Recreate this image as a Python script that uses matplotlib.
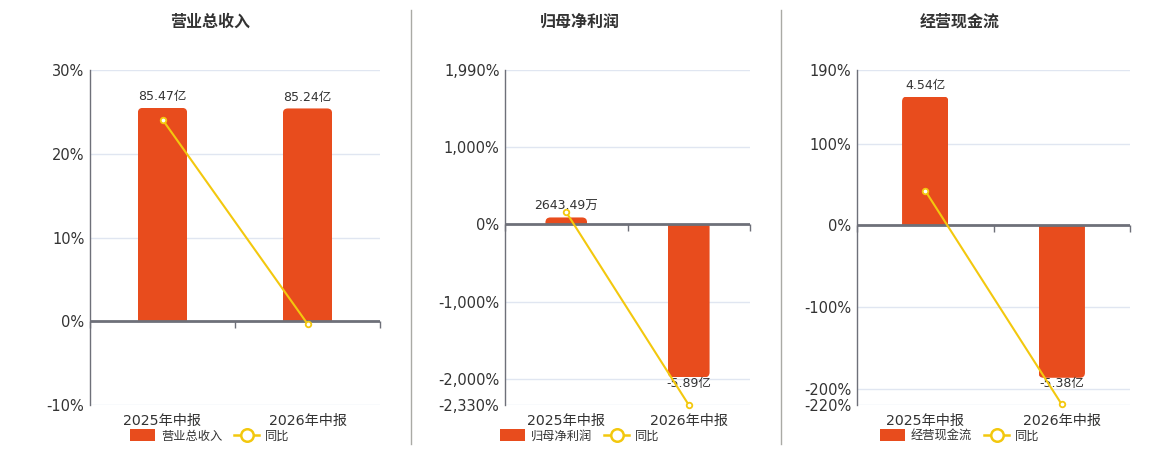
import numpy as np
import matplotlib
matplotlib.use("Agg")
import matplotlib.pyplot as plt
from matplotlib.patches import FancyBboxPatch
from matplotlib.lines import Line2D
from matplotlib.patches import Patch
from matplotlib.ticker import FuncFormatter, NullFormatter

plt.rcParams['font.family'] = ['DejaVu Sans', 'Noto Sans CJK SC']

# ---------------- data ----------------
categories = ["2025年中报", "2026年中报"]

titles = ["营业总收入", "归母净利润", "经营现金流"]

# bar values (in 亿)
revenue = [85.47, 85.24]
net_profit = [0.264349, -5.89]
cash_flow = [4.54, -5.38]

# bar labels
revenue_labels = ["85.47亿", "85.24亿"]
net_profit_labels = ["2643.49万", "-5.89亿"]
cash_flow_labels = ["4.54亿", "-5.38亿"]

# year-on-year growth (%)
revenue_yoy = [24.08, -0.31]
net_profit_yoy = [155.0, -2329.0]
cash_flow_yoy = [42.2, -219.3]

# percent axis ticks
revenue_ticks = [-10, 0, 10, 20, 30]
net_profit_ticks = [-2330, -2000, -1000, 0, 1000, 1990]
cash_flow_ticks = [-220, -200, -100, 0, 100, 190]

# ---------------- style ----------------
BAR_COLOR = "#E84C1D"
LINE_COLOR = "#F3C80E"
AXIS_COLOR = "#6E7079"
GRID_COLOR = "#E0E6F1"
TEXT_COLOR = "#333333"

W, H = 1160, 450
fig = plt.figure(figsize=(W / 100, H / 100), dpi=100)

# panel geometry in pixels: left, right, top, bottom
panels = [
    dict(box=(90, 380, 70, 405), scale=0.2981, center=210),
    dict(box=(505, 750, 70, 405), scale=335.0, center=580),
    dict(box=(857, 1130, 70, 405), scale=34.7, center=960),
]
bar_sets = [revenue, net_profit, cash_flow]
label_sets = [revenue_labels, net_profit_labels, cash_flow_labels]
yoy_sets = [revenue_yoy, net_profit_yoy, cash_flow_yoy]
tick_sets = [revenue_ticks, net_profit_ticks, cash_flow_ticks]

pct_fmt = FuncFormatter(lambda v, p: f"{v:,.0f}%")

for i, pnl in enumerate(panels):
    l, r, t, b = pnl["box"]
    rect = [l / W, 1 - b / H, (r - l) / W, (b - t) / H]
    ax = fig.add_axes(rect)          # bars (behind)
    ax2 = ax.twinx()                 # yoy line (front), percent axis on left

    ticks = tick_sets[i]
    k = pnl["scale"]
    ylo, yhi = min(ticks), max(ticks)
    ax2.set_ylim(ylo, yhi)
    ax.set_ylim(ylo / k, yhi / k)
    ax.set_xlim(-0.5, len(categories) - 0.5)

    # grid on the bar axis (behind bars)
    ax.set_yticks(np.array(ticks) / k)
    ax.yaxis.grid(True, color=GRID_COLOR, linewidth=1)
    ax.set_axisbelow(True)
    ax.tick_params(axis='y', left=False, labelleft=False, right=False, labelright=False)

    x = np.arange(len(categories))
    vals = bar_sets[i]
    bars = ax.bar(x, vals, width=0.34, color=BAR_COLOR, zorder=2)

    # rounded outer corners via clip path
    ax_w = (r - l)
    ax_h = (b - t)
    xpp = (len(categories)) / ax_w
    ypp = ((yhi - ylo) / k) / ax_h
    rad_px = 5
    for bar, v in zip(bars, vals):
        bx, bw = bar.get_x(), bar.get_width()
        if v >= 0:
            y0, hh = -abs(v), 2 * abs(v)
        else:
            y0, hh = v, 2 * abs(v)
        clip = FancyBboxPatch((bx, y0), bw, hh,
                              boxstyle=f"round,pad=0,rounding_size={rad_px * xpp}",
                              mutation_aspect=ypp / xpp,
                              transform=ax.transData, facecolor='none', edgecolor='none')
        ax.add_patch(clip)
        clip.set_visible(False)
        bar.set_clip_path(clip)

    # bar labels
    for xi, v, lab in zip(x, vals, label_sets[i]):
        if v >= 0:
            ax.annotate(lab, (xi, v), xytext=(0, 3.5), textcoords='offset points',
                        ha='center', va='bottom', fontsize=9, color=TEXT_COLOR, zorder=5)
        else:
            ax.annotate(lab, (xi, v), xytext=(0, 0.5), textcoords='offset points',
                        ha='center', va='top', fontsize=9, color=TEXT_COLOR, zorder=5)

    # zero reference line
    ax2.axhline(0, color=AXIS_COLOR, linewidth=2, zorder=3)

    # yoy line
    ax2.plot(x, yoy_sets[i], color=LINE_COLOR, linewidth=1.5, marker='o',
             markersize=4, markerfacecolor='white', markeredgecolor=LINE_COLOR,
             markeredgewidth=1.3, zorder=4, clip_on=False)

    # percent axis on left
    ax2.yaxis.tick_left()
    ax2.set_yticks(ticks)
    ax2.yaxis.set_major_formatter(pct_fmt)
    ax2.tick_params(axis='y', left=False, right=False, labelright=False, length=0,
                    labelleft=True, labelsize=10.5, labelcolor=TEXT_COLOR, pad=4)

    for a in (ax, ax2):
        for s in ('top', 'right', 'bottom'):
            a.spines[s].set_visible(False)
        a.spines['left'].set_visible(False)
    ax2.spines['left'].set_visible(True)
    ax2.spines['left'].set_color(AXIS_COLOR)
    ax2.spines['left'].set_linewidth(1)

    # category labels at bottom
    ax.set_xticks(x)
    ax.set_xticklabels(categories)
    ax.tick_params(axis='x', bottom=False, labelsize=10.2, labelcolor=TEXT_COLOR, pad=3)

    # category boundary ticks on the zero axis
    zero_frac = (0 - ylo) / (yhi - ylo)
    sx = ax2.secondary_xaxis(zero_frac)
    sx.xaxis.set_ticks_position('bottom')
    sx.set_xticks(np.arange(-0.5, len(categories), 1.0))
    sx.xaxis.set_major_formatter(NullFormatter())
    sx.tick_params(axis='x', direction='out', length=5, width=1, color=AXIS_COLOR,
                   labelbottom=False, labeltop=False)
    sx.spines['bottom'].set_visible(False)
    sx.spines['top'].set_visible(False)

    # title
    fig.text(pnl["center"] / W, 1 - 22 / H, titles[i], ha='center', va='center',
             fontsize=11.5, fontweight='bold', color=TEXT_COLOR)

    # legend
    handles = [
        Patch(facecolor=BAR_COLOR, edgecolor='none'),
        Line2D([0], [0], color=LINE_COLOR, linewidth=1.8, marker='o', markersize=9,
               markerfacecolor='white', markeredgecolor=LINE_COLOR, markeredgewidth=1.8),
    ]
    leg = fig.legend(handles, [titles[i], "同比"], loc='center',
                     bbox_to_anchor=(pnl["center"] / W, 1 - 436 / H), ncol=2,
                     frameon=False, fontsize=8.8, handlelength=2.0, handleheight=1.1,
                     columnspacing=1.0, handletextpad=0.5, labelcolor=TEXT_COLOR)

# dividers between panels
for xd in (410.5, 780.5):
    fig.add_artist(Line2D([xd / W, xd / W], [1 - 10 / H, 1 - 444 / H],
                          color="#AAAAA5", linewidth=1))

fig.savefig("out.png", dpi=100, facecolor='white')
